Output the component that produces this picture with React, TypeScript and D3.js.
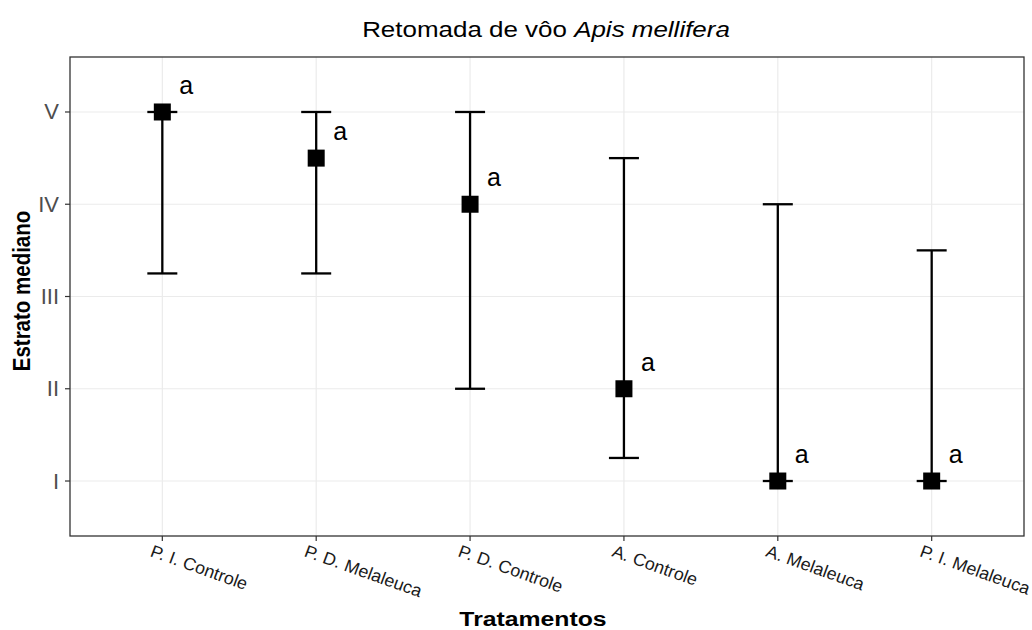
import React from "react";
import * as d3 from "d3";

const categories = ["P. I. Controle", "P. D. Melaleuca", "P. D. Controle", "A. Controle", "A. Melaleuca", "P. I. Melaleuca"];
const medians = [5, 4.5, 4, 2, 1, 1];
const lowers = [3.25, 3.25, 2, 1.25, 1, 1];
const uppers = [5, 5, 5, 4.5, 4, 3.5];
const letters = ["a", "a", "a", "a", "a", "a"];
const yTickValues = [1, 2, 3, 4, 5];
const yTickLabels = ["I", "II", "III", "IV", "V"];

const W = 1032, H = 630;
const left = 70, right = 1024, top = 57, bottom = 536;
const FONT = "Arial, 'Liberation Sans', Helvetica, sans-serif";

export default function App() {
  const x = d3.scalePoint<string>().domain(categories).range([left, right]).padding(0.6);
  const y = d3.scaleLinear().domain([0.404, 5.596]).range([bottom, top]);
  const capHalf = 15;
  const sq = 17;
  return (
    <svg width={W} height={H} style={{ display: "block", position: "absolute", left: 0, top: 0 }} fontFamily={FONT}>
      <rect x={0} y={0} width={W} height={H} fill="#fff" />
      {yTickValues.map((v) => (
        <line key={"gy" + v} x1={left} x2={right} y1={y(v)} y2={y(v)} stroke="#EBEBEB" strokeWidth={1.2} />
      ))}
      {categories.map((c) => (
        <line key={"gx" + c} x1={x(c)} x2={x(c)} y1={top} y2={bottom} stroke="#EBEBEB" strokeWidth={1.2} />
      ))}
      {categories.map((c, i) => {
        const cx = x(c)!;
        return (
          <g key={"eb" + c} stroke="#000" strokeWidth={2.3}>
            <line x1={cx} x2={cx} y1={y(lowers[i])} y2={y(uppers[i])} />
            <line x1={cx - capHalf} x2={cx + capHalf} y1={y(lowers[i])} y2={y(lowers[i])} />
            <line x1={cx - capHalf} x2={cx + capHalf} y1={y(uppers[i])} y2={y(uppers[i])} />
          </g>
        );
      })}
      {categories.map((c, i) => (
        <rect key={"pt" + c} x={x(c)! - sq / 2} y={y(medians[i]) - sq / 2} width={sq} height={sq} fill="#000" />
      ))}
      {categories.map((c, i) => (
        <text key={"lt" + c} x={x(c)! + 24} y={y(medians[i]) - 27} fontSize={25} textAnchor="middle" dominantBaseline="central" fill="#000">
          {letters[i]}
        </text>
      ))}
      <rect x={left} y={top} width={right - left} height={bottom - top} fill="none" stroke="#333" strokeWidth={1.3} />
      {yTickValues.map((v, i) => (
        <g key={"yt" + v}>
          <line x1={left - 5} x2={left} y1={y(v)} y2={y(v)} stroke="#333" strokeWidth={1.2} />
          <text x={left - 11} y={y(v)} fontSize={22} fill="#4D4D4D" textAnchor="end" dominantBaseline="central">
            {yTickLabels[i]}
          </text>
        </g>
      ))}
      {categories.map((c) => (
        <g key={"xt" + c}>
          <line x1={x(c)} x2={x(c)} y1={bottom} y2={bottom + 5} stroke="#333" strokeWidth={1.2} />
          <text transform={`translate(${x(c)! - 13},${bottom + 20}) scale(1.02,1) rotate(20)`} fontSize={17.5} fill="#1a1a1a" textAnchor="start">
            {c}
          </text>
        </g>
      ))}
      <text transform="translate(546,36.5) scale(1.18,1)" fontSize={22} textAnchor="middle" fill="#000">
        Retomada de vôo <tspan fontStyle="italic">Apis mellifera</tspan>
      </text>
      <text transform="translate(533,626) scale(1.18,1)" fontSize={21} fontWeight="bold" textAnchor="middle" fill="#000">
        Tratamentos
      </text>
      <text transform={`translate(30,291) scale(1.15,1) rotate(-90)`} fontSize={20.5} fontWeight="bold" textAnchor="middle" fill="#000">
        Estrato mediano
      </text>
    </svg>
  );
}
